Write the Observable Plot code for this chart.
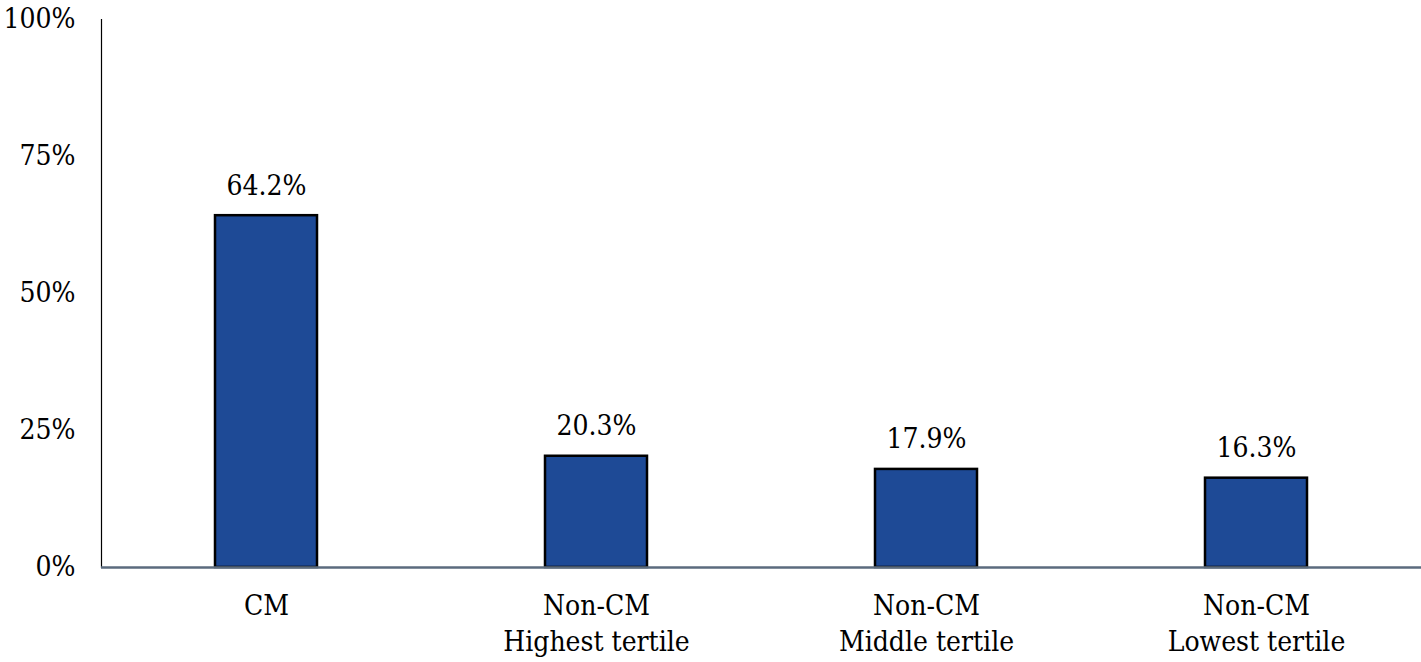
<!DOCTYPE html>
<html>
<head>
<meta charset="utf-8">
<script src="https://cdn.jsdelivr.net/npm/d3@7"></script>
<script src="https://cdn.jsdelivr.net/npm/@observablehq/plot@0.6"></script>
<style>
  html, body { margin: 0; padding: 0; background: #fff; }
  #chart svg { display: block; }
  #chart svg text { font-stretch: condensed; }
</style>
</head>
<body>
<div id="chart"></div>
<script>
const categories = ["CM", "Non-CM\nHighest tertile", "Non-CM\nMiddle tertile", "Non-CM\nLowest tertile"];
const values = [0.642, 0.203, 0.179, 0.163];
const valueLabels = ["64.2%", "20.3%", "17.9%", "16.3%"];
const yTicks = [0, 0.25, 0.5, 0.75, 1];

const data = categories.map((c, i) => ({category: c, value: values[i], label: valueLabels[i]}));
const serif = "DejaVu Serif Condensed, DejaVu Serif, serif";

const chart = Plot.plot({
  width: 1421,
  height: 662,
  marginLeft: 101,
  marginRight: 0,
  marginTop: 19,
  marginBottom: 95,
  x: {domain: categories, paddingInner: 0.69, paddingOuter: 0.345, label: null},
  y: {domain: [0, 1], label: null},
  marks: [
    Plot.frame({anchor: "left", stroke: "#000", strokeWidth: 1.2}),
    Plot.barY(data, {x: "category", y: "value", fill: "#1E4A96", stroke: "#000", strokeWidth: 2.5}),
    Plot.ruleY([0], {stroke: "#5B6B7E", strokeWidth: 2.5}),
    Plot.text(data, {x: "category", y: "value", text: "label", dy: -30, fill: "#000", fontSize: 28, fontFamily: serif}),
    Plot.axisY({ticks: yTicks, tickFormat: d => `${Math.round(d * 100)}%`, tickSize: 0, tickPadding: 26, fontSize: 28, fontFamily: serif, fill: "#000"}),
    Plot.axisX({tickSize: 0, tickPadding: 22, fontSize: 28, fontFamily: serif, lineHeight: 1.28, fill: "#000"})
  ]
});
document.getElementById("chart").appendChild(chart);
</script>
</body>
</html>
